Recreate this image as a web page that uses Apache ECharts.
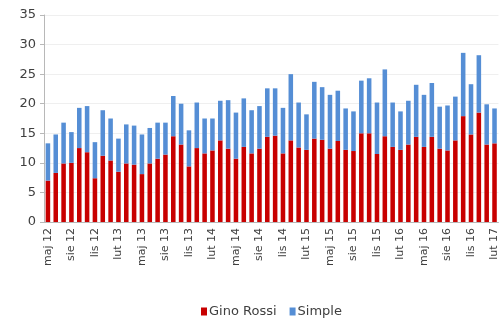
<!DOCTYPE html>
<html>
<head>
<meta charset="utf-8">
<script src="https://cdn.jsdelivr.net/npm/echarts@6/dist/echarts.min.js"></script>
<style>
	html, body { margin: 0; padding: 0; background: #fff; }
	#chart { width: 500px; height: 319px; }
</style>
</head>
<body>
<div id="chart"></div>
<script>
	// miesiące maj 12 - lut 17
	var months = [
		'maj 12', 'cze 12', 'lip 12', 'sie 12', 'wrz 12', 'paź 12', 'lis 12', 'gru 12',
		'sty 13', 'lut 13', 'mar 13', 'kwi 13', 'maj 13', 'cze 13', 'lip 13', 'sie 13', 'wrz 13', 'paź 13', 'lis 13', 'gru 13',
		'sty 14', 'lut 14', 'mar 14', 'kwi 14', 'maj 14', 'cze 14', 'lip 14', 'sie 14', 'wrz 14', 'paź 14', 'lis 14', 'gru 14',
		'sty 15', 'lut 15', 'mar 15', 'kwi 15', 'maj 15', 'cze 15', 'lip 15', 'sie 15', 'wrz 15', 'paź 15', 'lis 15', 'gru 15',
		'sty 16', 'lut 16', 'mar 16', 'kwi 16', 'maj 16', 'cze 16', 'lip 16', 'sie 16', 'wrz 16', 'paź 16', 'lis 16', 'gru 16',
		'sty 17', 'lut 17'
	];
	var giniRossi = [
		7.0, 8.3, 9.9, 10.0, 12.5, 11.8, 7.4, 11.2, 10.4, 8.5, 9.9, 9.7, 8.1, 9.9, 10.7, 11.4,
		14.5, 13.1, 9.4, 12.5, 11.6, 12.1, 13.8, 12.4, 10.7, 12.7, 11.6, 12.4, 14.4, 14.6, 11.6, 13.8,
		12.6, 12.2, 14.1, 13.9, 12.4, 13.7, 12.2, 12.0, 15.0, 15.0, 11.5, 14.5, 12.7, 12.2, 13.1, 14.4,
		12.7, 14.4, 12.4, 12.1, 13.8, 17.9, 14.8, 18.5, 13.1, 13.3
	];
	var simple = [
		6.3, 6.5, 6.9, 5.2, 6.8, 7.8, 6.1, 7.7, 7.1, 5.6, 6.6, 6.6, 6.7, 6.0, 6.1, 5.4,
		6.8, 6.9, 6.1, 7.7, 5.9, 5.4, 6.7, 8.2, 7.8, 8.2, 7.3, 7.2, 8.2, 8.0, 7.7, 11.2,
		7.6, 6.0, 9.6, 8.9, 9.1, 8.5, 7.0, 6.7, 8.9, 9.3, 8.7, 11.3, 7.5, 6.5, 7.4, 8.8,
		8.8, 9.1, 7.1, 7.6, 7.4, 10.7, 8.5, 9.7, 6.8, 5.9
	];
	var yTicks = { min: 0, max: 35, interval: 5 };

	var myChart = echarts.init(document.getElementById('chart'));
	var font = 'DejaVu Sans';
	var option = {
		animation: false,
		textStyle: { fontFamily: font },
		grid: { left: 44, right: 0, top: 15, bottom: 97 },
		legend: {
			left: 196,
			top: 300,
			itemWidth: 6,
			itemHeight: 8,
			itemGap: 13,
			icon: 'rect',
			textStyle: { fontFamily: font, fontSize: 13, color: '#404040', padding: [0, 0, 0, -3] },
			data: ['Gino Rossi', 'Simple']
		},
		xAxis: {
			type: 'category',
			data: months,
			boundaryGap: true,
			axisLine: { lineStyle: { color: '#b8b8b8' } },
			axisTick: { interval: 2, length: 4, lineStyle: { color: '#b8b8b8' } },
			axisLabel: {
				interval: 2,
				rotate: 90,
				margin: 6,
				fontFamily: font,
				fontSize: 11,
				color: '#404040'
			}
		},
		yAxis: {
			type: 'value',
			min: yTicks.min,
			max: yTicks.max,
			interval: yTicks.interval,
			axisLine: { show: true, lineStyle: { color: '#b8b8b8' } },
			axisTick: { show: true, length: 4, lineStyle: { color: '#b8b8b8' } },
			axisLabel: { margin: 8, fontFamily: font, fontSize: 13, color: '#404040' },
			splitLine: { lineStyle: { color: '#efefef' } }
		},
		series: [{
			name: 'Gino Rossi',
			type: 'bar',
			stack: 'total',
			data: giniRossi,
			barCategoryGap: '42%',
			itemStyle: { color: '#c80000' }
		}, {
			name: 'Simple',
			type: 'bar',
			stack: 'total',
			data: simple,
			barCategoryGap: '42%',
			itemStyle: { color: '#558ed5' }
		}]
	};
	myChart.setOption(option);
</script>
</body>
</html>
